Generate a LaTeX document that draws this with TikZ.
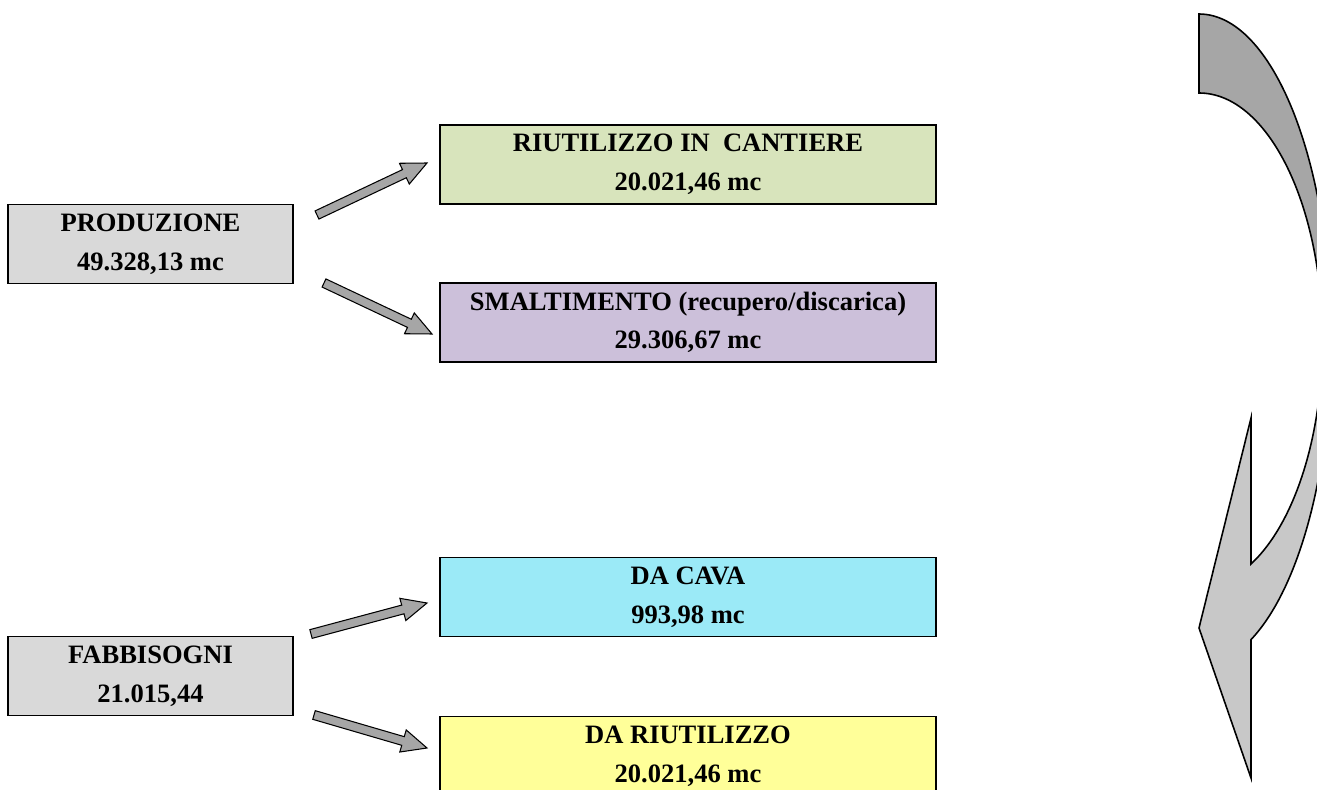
\documentclass[tikz,border=0pt]{standalone}
\usepackage{fontspec}
\setmainfont{Liberation Serif}
\usetikzlibrary{calc}
\definecolor{greyb}{HTML}{D9D9D9}
\definecolor{greenb}{HTML}{D8E4BC}
\definecolor{lilac}{HTML}{CCC0DA}
\definecolor{cyanb}{HTML}{9BEAF7}
\definecolor{yellowb}{HTML}{FFFF99}
\definecolor{arrdark}{HTML}{A6A6A6}
\definecolor{arrlight}{HTML}{C8C8C8}

% straight block arrow from #1 to #2
\newcommand{\blockarrow}[2]{%
  \filldraw[blockarr] let \p1=($(#2)-(#1)$), \n1={atan2(\y1,\x1)} in
    ($(#1)+(\n1+90:.09)$) -- ($(#2)+(\n1:-.5)+(\n1+90:.09)$)
    -- ($(#2)+(\n1:-.5)+(\n1+90:.23)$) -- (#2)
    -- ($(#2)+(\n1:-.5)+(\n1-90:.23)$) -- ($(#2)+(\n1:-.5)+(\n1-90:.09)$)
    -- ($(#1)+(\n1-90:.09)$) -- cycle;}

\begin{document}
\begin{tikzpicture}[font=\fontsize{15.1}{22}\selectfont\bfseries,line join=miter,
  box/.style={draw,line width=1.1pt,align=center,inner sep=0pt},
  leftbox/.style={box,fill=greyb,minimum width=5.7cm,minimum height=1.58cm},
  rightbox/.style={box,minimum width=9.92cm,minimum height=1.58cm},
  blockarr/.style={fill=arrdark,draw=black,line width=.6pt},
  curvarr/.style={draw=black,line width=.9pt}]
  \useasboundingbox (0,0) rectangle (26.34,15.78);
  \clip (0,0) rectangle (26.34,15.78);

  % production
  \node[leftbox] (prod) at (3.01,10.90) {PRODUZIONE\\49.328,13 mc};
  \node[rightbox,fill=greenb] (riut) at (13.76,12.49)
    {RIUTILIZZO IN\ \ CANTIERE\\20.021,46 mc};
  \node[rightbox,fill=lilac] (smalt) at (13.76,9.33)
    {SMALTIMENTO (recupero/discarica)\\29.306,67 mc};
  \coordinate (a1s) at (6.34,11.48);
  \coordinate (a1e) at (8.54,12.52);
  \coordinate (a2s) at (6.48,10.12);
  \coordinate (a2e) at (8.64,9.10);
  \blockarrow{a1s}{a1e}
  \blockarrow{a2s}{a2e}

  % requirements
  \node[leftbox] (fabb) at (3.01,2.26) {FABBISOGNI\\21.015,44};
  \node[rightbox,fill=cyanb] (cava) at (13.76,3.84) {DA CAVA\\993,98 mc};
  \node[rightbox,fill=yellowb] (dariu) at (13.76,0.66)
    {DA RIUTILIZZO\\20.021,46 mc};
  \coordinate (a3s) at (6.22,3.10);
  \coordinate (a3e) at (8.54,3.72);
  \coordinate (a4s) at (6.28,1.48);
  \coordinate (a4e) at (8.54,0.82);
  \blockarrow{a3s}{a3e}
  \blockarrow{a4s}{a4e}

  % curved arrow on the right
  \filldraw[curvarr,fill=arrdark] (23.98,15.50)
    arc[start angle=90,end angle=0,x radius=2.64,y radius=6.52]
    -- (26.45,8.98)
    arc[start angle=0,end angle=90,x radius=2.47,y radius=4.94] -- cycle;
  \filldraw[curvarr,fill=arrlight] (26.62,8.98)
    arc[start angle=0,end angle=-66.8,x radius=2.64,y radius=6.52]
    -- (25.02,0.22) -- (23.98,3.22) -- (25.02,7.42) -- (25.02,4.50)
    arc[start angle=-65.1,end angle=0,x radius=2.47,y radius=4.94] -- cycle;
\end{tikzpicture}
\end{document}
